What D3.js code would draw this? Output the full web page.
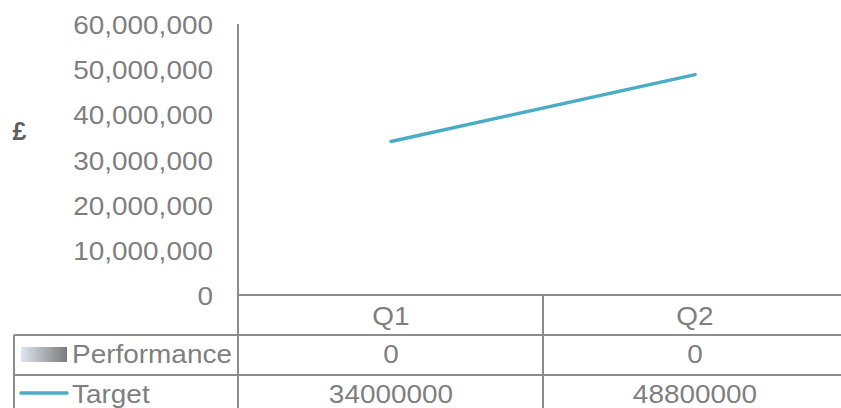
<!DOCTYPE html>
<html>
<head>
<meta charset="utf-8">
<script src="https://cdn.jsdelivr.net/npm/d3@7"></script>
<style>
  html, body { margin: 0; padding: 0; background: #ffffff; }
  svg { display: block; }
  text { font-family: "Liberation Sans", Arial, sans-serif; fill: #7f7f7f; }
</style>
</head>
<body>
<script>
// Quarterly figures shown in the chart and its data table
const categories = ["Q1", "Q2"];
const performance = [0, 0];
const target = [34000000, 48800000];
const yTicks = [0, 10000000, 20000000, 30000000, 40000000, 50000000, 60000000];
const seriesNames = ["Performance", "Target"];
const axisTitle = "£";

const W = 841, H = 408;
const plotLeft = 239, plotRight = 847, plotTop = 24, plotBase = 295;
const rowH = 40, tableLeft = 14;
const fontSize = 26.5;
const sx = 1.055; // slightly wide lettering

const svg = d3.select("body").append("svg").attr("width", W).attr("height", H);

const x = d3.scaleBand().domain(categories).range([plotLeft, plotRight]);
const y = d3.scaleLinear().domain([0, 60000000]).range([plotBase, plotTop]);

const gridColor = "#8c8c8c";
const lineColor = "#4bacc6";

// Place a widened text label at (px, py)
function label(parent, px, py, str, anchor) {
  return parent.append("text")
    .attr("transform", `translate(${px},${py}) scale(${sx},1)`)
    .attr("dy", "0.36em").attr("text-anchor", anchor || "start")
    .style("font-size", fontSize + "px").text(str);
}

// Gradient for the Performance legend key
const defs = svg.append("defs");
const grad = defs.append("linearGradient").attr("id", "perfGrad")
  .attr("x1", "0%").attr("x2", "100%").attr("y1", "0%").attr("y2", "0%");
grad.append("stop").attr("offset", "0%").attr("stop-color", "#dfe5f0");
grad.append("stop").attr("offset", "100%").attr("stop-color", "#7a7a7a");

// Value axis
const yAxis = d3.axisLeft(y).tickValues(yTicks).tickSize(0).tickPadding(26)
  .tickFormat(d3.format(","));
const gy = svg.append("g").attr("transform", `translate(${plotLeft},0)`).call(yAxis);
gy.select(".domain").remove();
gy.attr("font-family", null).attr("font-size", null);
gy.selectAll("text")
  .attr("x", -26 / sx)
  .attr("transform", `scale(${sx},1)`)
  .attr("fill", null)
  .attr("dy", "0.36em")
  .style("font-size", fontSize + "px");

// Axis title
svg.append("text").attr("x", 19.5).attr("y", 131).attr("text-anchor", "middle")
  .attr("dy", "0.36em").style("font-size", "25px").style("font-weight", "bold")
  .style("fill", "#5f5f5f").text(axisTitle);

// Performance bars (zero height at these values)
svg.append("g").selectAll("rect").data(performance).join("rect")
  .attr("x", (d, i) => x(categories[i]) + x.bandwidth() * 0.25)
  .attr("width", x.bandwidth() * 0.5)
  .attr("y", d => y(d))
  .attr("height", d => plotBase - y(d))
  .attr("fill", "url(#perfGrad)");

// Target line
const line = d3.line().x((d, i) => x(categories[i]) + x.bandwidth() / 2).y(d => y(d));
svg.append("path").datum(target).attr("d", line)
  .attr("fill", "none").attr("stroke", lineColor).attr("stroke-width", 3.5)
  .attr("stroke-linecap", "round");

// Data table grid
const g = svg.append("g").attr("stroke", gridColor).attr("stroke-width", 2);
g.append("line").attr("x1", plotLeft - 1).attr("x2", plotLeft - 1).attr("y1", plotTop).attr("y2", H);
g.append("line").attr("x1", plotLeft - 1).attr("x2", W).attr("y1", plotBase).attr("y2", plotBase);
[plotBase + rowH, plotBase + 2 * rowH].forEach(yy => {
  g.append("line").attr("x1", tableLeft).attr("x2", W).attr("y1", yy).attr("y2", yy);
});
g.append("line").attr("x1", tableLeft).attr("x2", tableLeft).attr("y1", plotBase + rowH).attr("y2", H);
categories.slice(1).forEach(c => {
  g.append("line").attr("x1", x(c)).attr("x2", x(c)).attr("y1", plotBase).attr("y2", H);
});

// Category header row
const header = svg.append("g");
categories.forEach(c => label(header, x(c) + x.bandwidth() / 2, plotBase + rowH / 2, c, "middle"));

// Table rows: legend key, series name, values
const rows = [
  { name: seriesNames[0], values: performance, key: "bar" },
  { name: seriesNames[1], values: target, key: "line" }
];
rows.forEach((r, ri) => {
  const cy = plotBase + rowH * (ri + 1) + rowH / 2;
  const ty = cy - 2;
  if (r.key === "bar") {
    svg.append("rect").attr("x", 21).attr("y", cy - 8).attr("width", 46).attr("height", 15)
      .attr("fill", "url(#perfGrad)");
  } else {
    svg.append("line").attr("x1", 21).attr("x2", 67).attr("y1", cy - 2).attr("y2", cy - 2)
      .attr("stroke", lineColor).attr("stroke-width", 3.5).attr("stroke-linecap", "round");
  }
  const rg = svg.append("g");
  label(rg, 72, ty, r.name, "start");
  r.values.forEach((v, i) => label(rg, x(categories[i]) + x.bandwidth() / 2, ty, String(v), "middle"));
});
</script>
</body>
</html>
